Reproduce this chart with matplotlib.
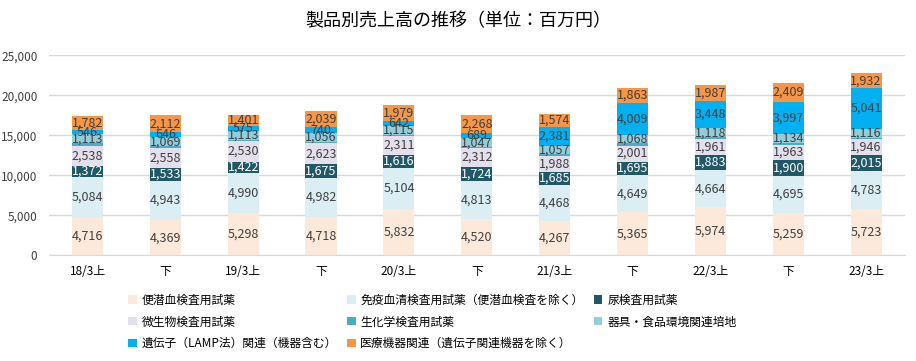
import matplotlib
matplotlib.use('Agg')
import matplotlib.pyplot as plt
import numpy as np

plt.rcParams['font.family'] = ['Noto Sans CJK JP', 'DejaVu Sans']

# 期間ラベル
periods = ['18/3上', '下', '19/3上', '下', '20/3上', '下', '21/3上', '下', '22/3上', '下', '23/3上']

# 製品別売上高（百万円）
fobt = [4716, 4369, 5298, 4718, 5832, 4520, 4267, 5365, 5974, 5259, 5723]
immuno = [5084, 4943, 4990, 4982, 5104, 4813, 4468, 4649, 4664, 4695, 4783]
urine = [1372, 1533, 1422, 1675, 1616, 1724, 1685, 1695, 1883, 1900, 2015]
micro = [2538, 2558, 2530, 2623, 2311, 2312, 1988, 2001, 1961, 1963, 1946]
biochem = [280, 260, 220, 210, 190, 180, 240, 260, 250, 190, 230]  # ラベルなし、目測
media = [1113, 1069, 1113, 1056, 1115, 1047, 1057, 1068, 1118, 1134, 1116]
gene = [546, 646, 575, 740, 642, 689, 2381, 4009, 3448, 3997, 5041]
device = [1782, 2112, 1401, 2039, 1979, 2268, 1574, 1863, 1987, 2409, 1932]

series_names = ['便潜血検査用試薬', '免疫血清検査用試薬（便潜血検査を除く）', '尿検査用試薬',
                '微生物検査用試薬', '生化学検査用試薬', '器具・食品環境関連培地',
                '遺伝子（LAMP法）関連（機器含む）', '医療機器関連（遺伝子関連機器を除く）']
series = [fobt, immuno, urine, micro, biochem, media, gene, device]
colors = ['#FDE9D9', '#DAEEF3', '#215868', '#E4DFEC', '#4BACC6', '#92CDDC', '#00B0F0', '#F79646']
show_label = [True, True, True, True, False, True, True, True]
label_colors = ['#404040', '#404040', 'white', '#404040', '#404040', '#404040', '#404040', '#404040']

fig = plt.figure(figsize=(9.16, 3.61), dpi=100)
ax = fig.add_axes([0.053, 0.293, 0.935, 0.554])

x = np.arange(len(periods))
bottom = np.zeros(len(periods))
handles = []
for name, vals, c, show, lc in zip(series_names, series, colors, show_label, label_colors):
    vals = np.array(vals)
    bars = ax.bar(x, vals, 0.4, bottom=bottom, color=c, label=name, zorder=2)
    handles.append(bars)
    if show:
        for xi, b, v in zip(x, bottom, vals):
            ax.text(xi, b + v / 2, f'{v:,}', ha='center', va='center',
                    fontsize=9, color=lc, zorder=3)
    bottom += vals

ax.set_xlim(-0.5, len(periods) - 0.5)
ax.set_ylim(0, 25000)
ax.set_yticks(np.arange(0, 25001, 5000))
ax.set_yticklabels([f'{v:,}' for v in range(0, 25001, 5000)], fontsize=8.5, color='#404040')
ax.set_xticks(x)
ax.set_xticklabels(periods, fontsize=8.5)
ax.yaxis.grid(True, color='#D9D9D9', linewidth=1, zorder=0)
ax.tick_params(axis='both', length=0)
ax.tick_params(axis='y', pad=8)
ax.tick_params(axis='x', pad=7)
for s in ['top', 'right', 'left']:
    ax.spines[s].set_visible(False)
ax.spines['bottom'].set_color('#D9D9D9')

fig.text(0.5, 0.94, '製品別売上高の推移（単位：百万円）', ha='center', va='center', fontsize=13)

order = [0, 3, 6, 1, 4, 7, 2, 5]
leg = fig.legend([handles[i] for i in order], [series_names[i] for i in order],
                 ncol=3, loc='upper left', bbox_to_anchor=(0.135, 0.2), frameon=False,
                 fontsize=8.5, handlelength=0.7, handleheight=0.7, handletextpad=0.4,
                 columnspacing=0.9, labelspacing=0.75, borderaxespad=0)

fig.savefig('out.png', dpi=100)
